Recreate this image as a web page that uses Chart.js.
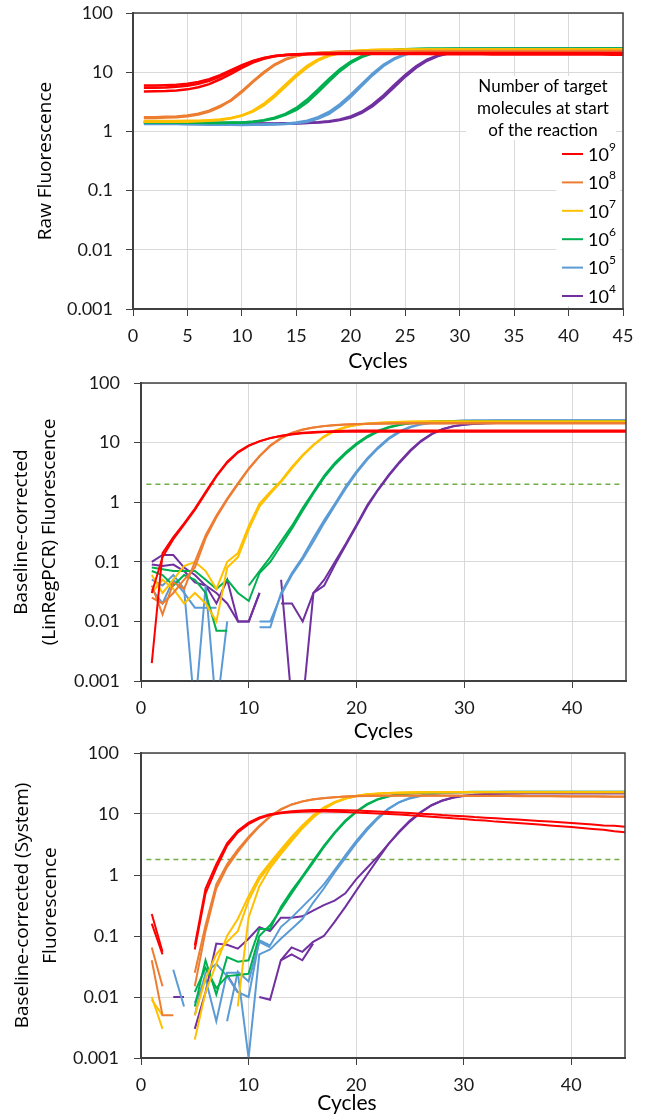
<!DOCTYPE html>
<html>
<head>
<meta charset="utf-8">
<script src="https://cdn.jsdelivr.net/npm/chart.js@4.4.1/dist/chart.umd.min.js"></script>
<style>
  body { margin: 0; background: #fff; width: 645px; height: 1119px; position: relative; overflow: hidden; }
  canvas { position: absolute; left: 0; }
</style>
</head>
<body>
<canvas id="raw" width="645" height="370" style="top:0"></canvas>
<canvas id="linreg" width="645" height="370" style="top:370px"></canvas>
<canvas id="system" width="645" height="379" style="top:740px"></canvas>
<script>
const cycles = [1, 2, 3, 4, 5, 6, 7, 8, 9, 10, 11, 12, 13, 14, 15, 16, 17, 18, 19, 20, 21, 22, 23,
  24, 25, 26, 27, 28, 29, 30, 31, 32, 33, 34, 35, 36, 37, 38, 39, 40, 41, 42, 43, 44, 45];
const yTicks = [0.001, 0.01, 0.1, 1, 10, 100];
const xTicksRaw = [0, 5, 10, 15, 20, 25, 30, 35, 40, 45];
const xTicksCorr = [0, 10, 20, 30, 40];
const dilutionExps = [9, 8, 7, 6, 5, 4];
const legendTitle = ["Number of target", "molecules at start", "of the reaction"];
const seriesColors = ["#ff0000", "#ed7d31", "#ffc000", "#00b050", "#5b9bd5", "#7030a0"];
const linregThreshold = 2.0;
const systemThreshold = 1.8;

// raw fluorescence, replicates per dilution
const raw9a = [5.94, 5.97, 6.04, 6.16, 6.39, 6.84, 7.63, 8.93, 10.8, 13.2,
  15.5, 17.4, 18.7, 19.5, 19.9, 20.1, 20.3, 20.3, 20.4, 20.4,
  20.4, 20.4, 20.4, 20.5, 20.5, 20.5, 20.5, 20.5, 20.5, 20.5,
  20.5, 20.6, 20.6, 20.6, 20.6, 20.6, 20.6, 20.6, 20.6, 20.6,
  20.6, 20.6, 20.7, 20.7, 20.7];
const raw9b = [5.44, 5.47, 5.53, 5.66, 5.90, 6.35, 7.15, 8.45, 10.3, 12.7,
  15.2, 17.2, 18.7, 19.6, 20.1, 20.4, 20.6, 20.7, 20.8, 20.8,
  20.8, 20.9, 20.9, 20.9, 20.9, 21.0, 21.0, 21.0, 21.0, 21.0,
  21.0, 21.0, 21.1, 21.1, 21.1, 21.1, 21.1, 21.1, 21.1, 21.1,
  21.2, 21.2, 21.2, 21.2, 21.2];
const raw9c = [4.73, 4.76, 4.81, 4.92, 5.13, 5.57, 6.30, 7.60, 9.40, 11.8,
  14.5, 16.8, 18.5, 19.5, 20.0, 20.2, 20.3, 20.3, 20.3, 20.3,
  20.3, 20.3, 20.2, 20.2, 20.2, 20.2, 20.2, 20.1, 20.1, 20.1,
  20.1, 20.1, 20.0, 20.0, 20.0, 20.0, 20.0, 20.0, 19.9, 19.9,
  19.9, 19.9, 19.9, 19.8, 19.8];
const raw8a = [1.73, 1.74, 1.76, 1.79, 1.86, 1.99, 2.24, 2.70, 3.30, 4.60,
  6.80, 9.70, 13.2, 16.3, 18.7, 20.3, 21.2, 21.8, 22.1, 22.3,
  22.4, 22.5, 22.5, 22.6, 22.6, 22.6, 22.7, 22.7, 22.7, 22.7,
  22.7, 22.8, 22.8, 22.8, 22.8, 22.8, 22.8, 22.8, 22.9, 22.9,
  22.9, 22.9, 22.9, 22.9, 22.9];
const raw8b = [1.68, 1.69, 1.71, 1.74, 1.80, 1.93, 2.17, 2.60, 3.40, 4.80,
  7.00, 10.0, 13.5, 16.6, 18.9, 20.4, 21.3, 21.8, 22.1, 22.3,
  22.4, 22.4, 22.5, 22.5, 22.5, 22.5, 22.6, 22.6, 22.6, 22.6,
  22.6, 22.6, 22.6, 22.6, 22.6, 22.6, 22.6, 22.6, 22.6, 22.6,
  22.7, 22.7, 22.7, 22.7, 22.7];
const raw7a = [1.45, 1.45, 1.45, 1.46, 1.46, 1.48, 1.51, 1.56, 1.66, 1.86,
  2.22, 2.92, 4.14, 6.17, 9.11, 12.8, 16.4, 19.3, 21.4, 22.6,
  23.3, 23.7, 23.9, 23.9, 24.0, 24.0, 24.1, 24.1, 24.1, 24.1,
  24.1, 24.1, 24.2, 24.2, 24.2, 24.2, 24.2, 24.2, 24.2, 24.2,
  24.2, 24.2, 24.3, 24.3, 24.3];
const raw7b = [1.50, 1.50, 1.50, 1.50, 1.51, 1.52, 1.55, 1.59, 1.68, 1.85,
  2.15, 2.75, 3.85, 5.70, 8.50, 12.0, 15.8, 18.9, 21.1, 22.5,
  23.3, 23.7, 23.9, 24.0, 24.1, 24.1, 24.1, 24.1, 24.1, 24.1,
  24.1, 24.1, 24.1, 24.1, 24.1, 24.1, 24.1, 24.1, 24.1, 24.1,
  24.1, 24.1, 24.1, 24.1, 24.1];
const raw6a = [1.42, 1.42, 1.41, 1.41, 1.40, 1.40, 1.39, 1.39, 1.40, 1.42,
  1.46, 1.55, 1.70, 1.98, 2.49, 3.45, 5.10, 7.70, 11.2, 15.1,
  18.6, 21.2, 22.9, 23.8, 24.3, 24.6, 24.8, 24.9, 24.9, 24.9,
  25.0, 25.0, 25.0, 25.0, 25.0, 25.0, 25.0, 25.0, 25.0, 25.0,
  25.0, 25.0, 25.0, 25.0, 25.0];
const raw6b = [1.45, 1.44, 1.44, 1.43, 1.42, 1.41, 1.40, 1.40, 1.41, 1.42,
  1.45, 1.52, 1.65, 1.90, 2.30, 3.10, 4.60, 7.00, 10.4, 14.3,
  18.0, 20.8, 22.6, 23.7, 24.3, 24.6, 24.8, 24.9, 25.0, 25.0,
  25.0, 25.0, 25.0, 25.0, 25.0, 25.0, 25.0, 25.0, 25.0, 25.0,
  25.1, 25.1, 25.1, 25.1, 25.1];
const raw5a = [1.38, 1.37, 1.36, 1.35, 1.34, 1.33, 1.32, 1.31, 1.30, 1.29,
  1.30, 1.31, 1.33, 1.35, 1.41, 1.52, 1.74, 2.13, 2.88, 4.16,
  6.30, 9.40, 13.3, 17.1, 20.2, 22.3, 23.6, 24.4, 24.7, 24.9,
  25.0, 25.1, 25.1, 25.1, 25.2, 25.2, 25.2, 25.2, 25.2, 25.2,
  25.2, 25.2, 25.2, 25.2, 25.2];
const raw5b = [1.34, 1.34, 1.33, 1.33, 1.32, 1.31, 1.30, 1.30, 1.29, 1.28,
  1.29, 1.30, 1.31, 1.33, 1.37, 1.46, 1.65, 1.98, 2.65, 3.85,
  5.90, 8.90, 12.7, 16.6, 19.8, 22.0, 23.4, 24.2, 24.6, 24.8,
  24.9, 25.0, 25.0, 25.0, 25.1, 25.1, 25.1, 25.1, 25.1, 25.1,
  25.1, 25.1, 25.1, 25.1, 25.1];
const raw4a = [1.45, 1.44, 1.43, 1.42, 1.41, 1.40, 1.39, 1.38, 1.37, 1.37,
  1.36, 1.36, 1.36, 1.37, 1.37, 1.40, 1.43, 1.49, 1.59, 1.79,
  2.15, 2.84, 4.06, 6.08, 9.00, 12.6, 16.3, 19.2, 21.2, 22.4,
  23.1, 23.5, 23.7, 23.8, 23.9, 23.9, 23.9, 23.9, 23.9, 23.9,
  23.9, 23.9, 23.9, 23.9, 23.9];
const raw4b = [1.40, 1.40, 1.39, 1.39, 1.38, 1.38, 1.37, 1.37, 1.36, 1.36,
  1.35, 1.35, 1.35, 1.36, 1.36, 1.38, 1.41, 1.46, 1.55, 1.72,
  2.05, 2.65, 3.75, 5.60, 8.40, 11.9, 15.6, 18.7, 20.8, 22.1,
  22.9, 23.3, 23.5, 23.6, 23.7, 23.7, 23.7, 23.7, 23.7, 23.7,
  23.7, 23.7, 23.7, 23.7, 23.7];

// baseline-corrected with LinRegPCR
const lin9a = [0.002, 0.14, 0.26, 0.44, 0.78, 1.50, 2.80, 4.80, 7.00, 9.00,
  10.6, 11.9, 12.9, 13.7, 14.3, 14.7, 15.0, 15.1, 15.2, 15.2,
  15.2, 15.2, 15.2, 15.2, 15.2, 15.2, 15.2, 15.2, 15.2, 15.2,
  15.2, 15.2, 15.2, 15.2, 15.2, 15.2, 15.2, 15.2, 15.2, 15.2,
  15.2, 15.2, 15.2, 15.2, 15.2];
const lin9b = [0.03, 0.12, 0.24, 0.42, 0.74, 1.42, 2.70, 4.60, 6.80, 8.80,
  10.5, 11.9, 13.0, 13.9, 14.6, 15.1, 15.4, 15.6, 15.8, 15.9,
  15.9, 15.9, 15.9, 15.9, 15.9, 15.9, 15.9, 15.9, 15.9, 15.9,
  15.9, 15.9, 15.9, 15.9, 15.9, 15.9, 15.9, 15.9, 15.9, 15.9,
  15.9, 15.9, 15.9, 15.9, 15.9];
const lin8a = [0.04, 0.013, 0.045, 0.035, 0.10, 0.28, 0.60, 1.15, 2.10, 3.70,
  6.00, 9.00, 12.0, 14.6, 16.6, 18.0, 19.0, 19.7, 20.2, 20.5,
  20.8, 20.9, 21.0, 21.1, 21.2, 21.2, 21.2, 21.2, 21.3, 21.3,
  21.3, 21.3, 21.3, 21.3, 21.3, 21.3, 21.3, 21.3, 21.3, 21.3,
  21.3, 21.3, 21.3, 21.3, 21.3];
const lin8b = [0.025, 0.02, 0.03, 0.05, 0.08, 0.25, 0.56, 1.10, 2.00, 3.60,
  5.90, 8.80, 11.8, 14.4, 16.4, 17.9, 18.9, 19.6, 20.1, 20.4,
  20.7, 20.8, 20.9, 21.0, 21.0, 21.0, 21.0, 21.0, 21.0, 21.0,
  21.0, 21.0, 21.0, 21.0, 21.0, 21.0, 21.0, 21.0, 21.0, 21.0,
  21.0, 21.0, 21.0, 21.0, 21.0];
const lin7a = [0.06, 0.03, 0.05, 0.085, 0.10, 0.07, 0.035, 0.10, 0.14, 0.40,
  0.95, 1.50, 2.30, 3.90, 6.20, 9.20, 12.8, 16.0, 18.3, 19.9,
  20.9, 21.6, 22.0, 22.3, 22.5, 22.6, 22.7, 22.7, 22.7, 22.7,
  22.7, 22.7, 22.7, 22.7, 22.7, 22.7, 22.7, 22.7, 22.7, 22.7,
  22.7, 22.7, 22.7, 22.7, 22.7];
const lin7b = [0.03, 0.05, 0.035, 0.02, 0.03, 0.02, 0.01, 0.08, 0.12, 0.35,
  0.85, 1.40, 2.20, 3.70, 6.00, 9.00, 12.5, 15.7, 18.1, 19.7,
  20.7, 21.4, 21.9, 22.2, 22.4, 22.5, 22.6, 22.6, 22.6, 22.6,
  22.6, 22.6, 22.6, 22.6, 22.6, 22.6, 22.6, 22.6, 22.6, 22.6,
  22.6, 22.6, 22.6, 22.6, 22.6];
const lin6a = [0.08, 0.075, 0.07, 0.07, 0.07, 0.05, 0.035, 0.05, 0.03, 0.022,
  0.065, 0.10, 0.19, 0.36, 0.72, 1.40, 2.60, 4.30, 6.50, 9.20,
  12.3, 15.3, 17.9, 19.8, 21.1, 21.9, 22.4, 22.7, 22.9, 23.0,
  23.0, 23.0, 23.0, 23.0, 23.0, 23.0, 23.0, 23.0, 23.0, 23.0,
  23.0, 23.0, 23.0, 23.0, 23.0];
const lin6b = [0.07, 0.06, 0.04, 0.06, 0.05, 0.03, 0.007, 0.007, null, 0.04,
  0.07, 0.12, 0.22, 0.40, 0.80, 1.50, 2.80, 4.60, 6.90, 9.70,
  12.8, 15.8, 18.3, 20.1, 21.3, 22.0, 22.5, 22.8, 23.0, 23.1,
  23.1, 23.1, 23.1, 23.1, 23.1, 23.1, 23.1, 23.1, 23.1, 23.1,
  23.1, 23.1, 23.1, 23.1, 23.1];
const lin5a = [0.05, 0.04, 0.06, 0.035, 0.0003, 0.04, 0.0003, 0.01, null, null,
  0.01, 0.01, 0.028, 0.06, 0.11, 0.22, 0.45, 0.88, 1.70, 3.10,
  5.20, 8.00, 11.5, 15.0, 18.0, 20.2, 21.6, 22.5, 23.0, 23.3,
  23.4, 23.4, 23.5, 23.5, 23.5, 23.5, 23.5, 23.5, 23.5, 23.5,
  23.5, 23.5, 23.5, 23.5, 23.5];
const lin5b = [0.035, 0.02, 0.05, 0.03, 0.017, 0.017, 0.017, null, null, null,
  0.008, 0.008, 0.03, 0.065, 0.12, 0.25, 0.50, 0.95, 1.85, 3.30,
  5.50, 8.40, 12.0, 15.5, 18.4, 20.5, 21.8, 22.6, 23.1, 23.4,
  23.5, 23.5, 23.6, 23.6, 23.6, 23.6, 23.6, 23.6, 23.6, 23.6,
  23.6, 23.6, 23.6, 23.6, 23.6];
const lin4a = [0.10, 0.13, 0.13, 0.08, 0.06, 0.04, 0.02, 0.05, 0.01, 0.01,
  0.03, null, 0.05, 0.0004, 0.0004, 0.03, 0.05, 0.10, 0.20, 0.42,
  0.90, 1.65, 2.90, 4.80, 7.50, 10.8, 14.2, 17.0, 18.9, 20.1,
  20.8, 21.2, 21.4, 21.5, 21.6, 21.6, 21.6, 21.6, 21.6, 21.6,
  21.6, 21.6, 21.6, 21.6, 21.6];
const lin4b = [0.09, 0.085, 0.09, 0.07, 0.045, 0.04, 0.03, 0.02, 0.01, 0.01,
  0.03, null, 0.02, 0.02, 0.01, 0.03, 0.04, 0.09, 0.19, 0.40,
  0.85, 1.60, 2.80, 4.60, 7.20, 10.5, 13.9, 16.8, 18.8, 20.0,
  20.7, 21.1, 21.3, 21.4, 21.5, 21.5, 21.5, 21.5, 21.5, 21.5,
  21.5, 21.5, 21.5, 21.5, 21.5];

// baseline-corrected by the instrument software
const sys9a = [0.23, 0.055, null, null, 0.07, 0.60, 1.50, 3.30, 5.30, 7.20,
  8.80, 9.90, 10.6, 11.1, 11.4, 11.6, 11.6, 11.6, 11.5, 11.4,
  11.2, 11.0, 10.8, 10.6, 10.4, 10.1, 9.90, 9.60, 9.40, 9.20,
  8.90, 8.70, 8.50, 8.30, 8.10, 7.90, 7.70, 7.50, 7.30, 7.10,
  6.90, 6.70, 6.50, 6.40, 6.20];
const sys9b = [0.16, 0.05, null, null, 0.06, 0.50, 1.30, 3.00, 5.00, 6.80,
  8.40, 9.60, 10.3, 10.7, 10.9, 11.0, 11.0, 10.9, 10.8, 10.6,
  10.4, 10.2, 10.0, 9.80, 9.50, 9.30, 9.00, 8.80, 8.50, 8.30,
  8.00, 7.80, 7.50, 7.30, 7.10, 6.90, 6.70, 6.50, 6.30, 6.10,
  5.90, 5.70, 5.50, 5.20, 5.00];
const sys8a = [0.065, 0.015, null, null, 0.025, 0.15, 0.70, 1.50, 2.60, 4.20,
  6.40, 9.20, 12.0, 14.4, 16.1, 17.4, 18.3, 18.9, 19.4, 19.7,
  19.9, 20.0, 20.1, 20.1, 20.1, 20.1, 20.1, 20.1, 20.1, 20.0,
  20.0, 20.0, 19.9, 19.9, 19.9, 19.8, 19.8, 19.7, 19.7, 19.6,
  19.6, 19.5, 19.5, 19.4, 19.4];
const sys8b = [0.04, 0.005, 0.005, null, 0.015, 0.12, 0.60, 1.35, 2.40, 4.00,
  6.20, 9.00, 11.8, 14.2, 16.0, 17.3, 18.2, 18.9, 19.3, 19.6,
  19.8, 19.9, 19.9, 20.0, 20.0, 20.0, 20.0, 19.9, 19.9, 19.9,
  19.8, 19.8, 19.7, 19.7, 19.6, 19.6, 19.5, 19.5, 19.4, 19.4,
  19.3, 19.3, 19.2, 19.2, 19.1];
const sys7a = [0.01, 0.003, null, null, 0.002, 0.012, 0.035, 0.10, 0.19, 0.45,
  0.95, 1.60, 2.60, 4.20, 6.50, 9.50, 12.8, 15.8, 18.2, 19.9,
  21.0, 21.7, 22.1, 22.4, 22.6, 22.7, 22.8, 22.8, 22.9, 22.9,
  22.9, 22.9, 22.9, 22.9, 22.9, 22.9, 22.9, 22.9, 22.9, 22.9,
  22.9, 22.9, 22.9, 22.9, 22.9];
const sys7b = [0.009, 0.005, null, null, 0.005, 0.02, 0.05, 0.08, 0.12, 0.38,
  0.85, 1.45, 2.40, 3.90, 6.10, 9.00, 12.3, 15.4, 17.9, 19.7,
  20.8, 21.5, 22.0, 22.3, 22.5, 22.6, 22.7, 22.7, 22.8, 22.8,
  22.8, 22.8, 22.8, 22.8, 22.8, 22.8, 22.8, 22.8, 22.8, 22.8,
  22.8, 22.8, 22.8, 22.8, 22.8];
const sys7c = [null, null, null, null, null, null, null, null, 0.007, 0.20,
  0.65, 1.30, 2.20, 3.60, 5.80, 8.70, 12.0, 15.2, 17.8, 19.6,
  20.8, 21.5, 22.0, 22.3, 22.5, 22.7, 22.7, 22.7, 22.7, 22.7,
  22.7, 22.7, 22.7, 22.7, 22.7, 22.7, 22.7, 22.7, 22.7, 22.7,
  22.7, 22.7, 22.7, 22.7, 22.7];
const sys6a = [null, null, null, null, 0.007, 0.04, 0.011, 0.045, 0.038, 0.04,
  0.13, 0.13, 0.30, 0.55, 0.95, 1.70, 3.00, 5.00, 7.80, 11.0,
  14.5, 17.5, 19.6, 21.0, 21.8, 22.3, 22.6, 22.8, 23.0, 23.0,
  23.1, 23.1, 23.1, 23.1, 23.1, 23.1, 23.1, 23.1, 23.1, 23.1,
  23.1, 23.1, 23.1, 23.1, 23.1];
const sys6b = [null, null, null, null, 0.012, 0.03, 0.014, 0.022, 0.023, 0.024,
  0.10, 0.15, 0.27, 0.50, 0.90, 1.60, 2.85, 4.80, 7.50, 10.7,
  14.1, 17.2, 19.4, 20.8, 21.6, 22.1, 22.5, 22.7, 22.9, 23.0,
  23.0, 23.0, 23.0, 23.0, 23.0, 23.0, 23.0, 23.0, 23.0, 23.0,
  23.0, 23.0, 23.0, 23.0, 23.0];
const sys5a = [null, null, null, null, 0.005, 0.025, 0.035, 0.022, 0.012, 0.01,
  0.085, 0.07, 0.14, 0.20, 0.30, 0.45, 0.70, 1.20, 2.10, 3.60,
  5.80, 8.80, 12.3, 15.6, 18.3, 20.2, 21.4, 22.1, 22.6, 22.8,
  22.9, 23.0, 23.0, 23.1, 23.1, 23.1, 23.1, 23.1, 23.1, 23.1,
  23.1, 23.1, 23.1, 23.1, 23.1];
const sys5b = [null, null, null, null, 0.008, 0.02, 0.004, 0.025, 0.025, 0.001,
  0.05, 0.06, 0.09, 0.13, 0.19, 0.35, 0.60, 1.10, 1.90, 3.30,
  5.40, 8.30, 12.0, 15.5, 18.0, 19.8, 21.0, 21.8, 22.3, 22.6,
  22.8, 22.9, 23.0, 23.0, 23.0, 23.0, 23.0, 23.0, 23.0, 23.0,
  23.0, 23.0, 23.0, 23.0, 23.0];
const sys5c = [null, null, 0.028, 0.007, null, null, null, 0.004, 0.026, 0.018,
  0.08, 0.065, null, null, null, null, null, null, null, null,
  null, null, null, null, null, null, null, null, null, null,
  null, null, null, null, null, null, null, null, null, null,
  null, null, null, null, null];
const sys4a = [null, null, null, null, 0.003, 0.012, 0.075, 0.072, 0.062, 0.09,
  0.14, 0.12, 0.20, 0.20, 0.21, 0.26, 0.32, 0.38, 0.50, 0.85,
  1.30, 2.00, 3.20, 5.00, 7.50, 10.5, 13.8, 16.5, 18.5, 19.8,
  20.6, 21.1, 21.4, 21.6, 21.7, 21.8, 21.8, 21.9, 21.9, 21.9,
  21.9, 21.9, 21.9, 21.9, 21.9];
const sys4b = [null, null, null, null, null, null, null, 0.023, 0.012, null,
  0.01, 0.009, 0.04, 0.065, 0.055, 0.08, 0.10, 0.17, 0.30, 0.55,
  1.00, 1.80, 3.20, 5.20, 7.80, 10.8, 14.0, 16.7, 18.7, 20.0,
  20.7, 21.2, 21.5, 21.7, 21.8, 21.8, 21.8, 21.8, 21.8, 21.8,
  21.8, 21.8, 21.8, 21.8, 21.8];
const sys4c = [null, null, 0.01, 0.01, null, null, null, null, null, null,
  null, null, 0.04, 0.05, 0.04, 0.075, null, null, null, null,
  null, null, null, null, null, null, null, null, null, null,
  null, null, null, null, null, null, null, null, null, null,
  null, null, null, null, null];

const rawGroups = [[raw9a, raw9b, raw9c], [raw8a, raw8b], [raw7a, raw7b],
  [raw6a, raw6b], [raw5a, raw5b], [raw4a, raw4b]];
const linGroups = [[lin9a, lin9b], [lin8a, lin8b], [lin7a, lin7b],
  [lin6a, lin6b], [lin5a, lin5b], [lin4a, lin4b]];
const sysGroups = [[sys9a, sys9b], [sys8a, sys8b], [sys7a, sys7b, sys7c],
  [sys6a, sys6b], [sys5a, sys5b, sys5c], [sys4a, sys4b, sys4c]];

const FONT = "Lato, 'Open Sans', sans-serif";
const TITLE_FONT = "'Open Sans', Lato, sans-serif";

function buildSets(groups, width) {
  const sets = [];
  groups.forEach((reps, g) => {
    reps.forEach((data) => {
      sets.push({
        data,
        borderColor: seriesColors[g],
        borderWidth: width,
        pointRadius: 0,
        tension: 0,
        spanGaps: false,
      });
    });
  });
  return sets;
}

function thresholdSet(level) {
  return {
    data: [{ x: 0.5, y: level }, { x: 44.6, y: level }],
    borderColor: "#70ad47",
    borderWidth: 1.5,
    borderDash: [5, 4],
    pointRadius: 0,
  };
}

// box round the plot area
const frame = {
  id: "frame",
  afterDraw(chart) {
    const { ctx, chartArea: a } = chart;
    ctx.save();
    ctx.strokeStyle = "#404040";
    ctx.lineWidth = 1.5;
    ctx.strokeRect(a.left, a.top, a.right - a.left, a.bottom - a.top);
    ctx.restore();
  },
};

// legend sitting inside the raw plot
const legendBox = {
  id: "legendBox",
  afterDatasetsDraw(chart) {
    const ctx = chart.ctx;
    ctx.save();
    ctx.fillStyle = "#fff";
    ctx.fillRect(466, 76, 150, 64);
    ctx.fillRect(556, 140, 64, 166);
    ctx.fillStyle = "#000";
    ctx.font = "17px " + FONT;
    ctx.textAlign = "center";
    ctx.textBaseline = "middle";
    legendTitle.forEach((t, i) => ctx.fillText(t, 543, 87 + i * 22));
    dilutionExps.forEach((e, i) => {
      const y = 154 + i * 28.4;
      ctx.strokeStyle = seriesColors[i];
      ctx.lineWidth = 2;
      ctx.beginPath();
      ctx.moveTo(562, y);
      ctx.lineTo(583, y);
      ctx.stroke();
      ctx.textAlign = "left";
      ctx.font = "18px " + FONT;
      ctx.fillText("10", 588, y + 1);
      const w = ctx.measureText("10").width;
      ctx.font = "12px " + FONT;
      ctx.fillText(String(e), 588 + w, y - 7);
    });
    ctx.restore();
  },
};

// x title that is not centred under the plot
const freeTitle = {
  id: "freeTitle",
  afterDraw(chart, args, o) {
    if (!o.text) return;
    const ctx = chart.ctx;
    ctx.save();
    ctx.fillStyle = "#000";
    ctx.font = "21px " + FONT;
    ctx.textAlign = "center";
    ctx.textBaseline = "middle";
    ctx.fillText(o.text, o.x, o.y);
    ctx.restore();
  },
};

function makePanel(id, datasets, cfg) {
  const canvas = document.getElementById(id);
  return new Chart(canvas, {
    type: "line",
    data: { labels: cycles, datasets },
    options: {
      responsive: false,
      animation: false,
      events: [],
      layout: { padding: { top: cfg.top, right: cfg.right, left: 0, bottom: 0 } },
      plugins: {
        legend: { display: false },
        tooltip: { enabled: false },
        freeTitle: cfg.freeTitle || {},
      },
      scales: {
        x: {
          type: "linear",
          min: 0,
          max: 45,
          afterBuildTicks: (s) => { s.ticks = cfg.xTicks.map((v) => ({ value: v })); },
          afterFit: (s) => {
            s.height = canvas.height - cfg.bottom;
            s.paddingLeft = 0;
            s.paddingRight = 0;
          },
          ticks: { font: { family: FONT, size: 18 }, color: "#1a1a1a", padding: 9, maxRotation: 0, autoSkip: false },
          grid: { color: "#d9d9d9", tickColor: "#404040", tickLength: 7 },
          border: { color: "#404040", width: 2 },
          title: {
            display: !!cfg.xTitle,
            text: cfg.xTitle,
            color: "#000",
            font: { family: FONT, size: 21, lineHeight: 0.8 },
            padding: { top: 0, bottom: 0 },
          },
        },
        y: {
          type: "logarithmic",
          min: 0.001,
          max: 100,
          afterBuildTicks: (s) => { s.ticks = yTicks.map((v) => ({ value: v })); },
          afterFit: (s) => {
            s.width = cfg.left;
            s.paddingTop = 0;
            s.paddingBottom = 0;
          },
          ticks: {
            font: { family: FONT, size: 18 },
            color: "#1a1a1a",
            padding: cfg.yPad,
            callback: (v) => String(v),
          },
          grid: { color: "#d9d9d9", tickColor: "#404040", tickLength: 7 },
          border: { color: "#404040", width: 2 },
          title: {
            display: true,
            text: cfg.yTitle,
            color: "#000",
            font: { family: TITLE_FONT, size: 19, lineHeight: cfg.yTitleLH },
            padding: { top: cfg.yTitlePad, bottom: 0 },
          },
        },
      },
    },
    plugins: cfg.extra,
  });
}

makePanel("raw", buildSets(rawGroups, 2.5), {
  top: 13, bottom: 309, left: 133, right: 22,
  xTicks: xTicksRaw, xTitle: "Cycles",
  yTitle: "Raw Fluorescence", yTitleLH: 1.2, yTitlePad: 34, yPad: 13,
  extra: [legendBox, frame],
});

makePanel("linreg", buildSets(linGroups, 2).concat([thresholdSet(linregThreshold)]), {
  top: 13, bottom: 311, left: 141, right: 19,
  xTicks: xTicksCorr, xTitle: "Cycles",
  yTitle: ["Baseline-corrected", "(LinRegPCR) Fluorescence"], yTitleLH: 1.5, yTitlePad: 7, yPad: 14,
  extra: [frame],
});

makePanel("system", buildSets(sysGroups, 2).concat([thresholdSet(systemThreshold)]), {
  top: 13, bottom: 318, left: 141, right: 20,
  xTicks: xTicksCorr, xTitle: "",
  yTitle: ["Baseline-corrected (System)", "Fluorescence"], yTitleLH: 1.5, yTitlePad: 8, yPad: 15,
  freeTitle: { text: "Cycles", x: 347, y: 363 },
  extra: [frame, freeTitle],
});
</script>
</body>
</html>
